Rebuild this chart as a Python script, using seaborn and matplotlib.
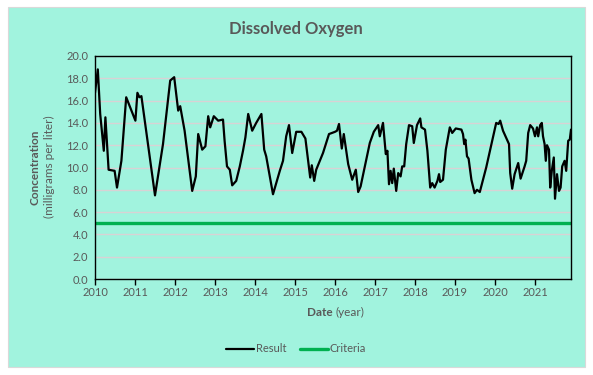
import numpy as np
import pandas as pd
import seaborn as sb
import matplotlib.pyplot as plt
from matplotlib.patches import Rectangle
from matplotlib.ticker import StrMethodFormatter

# sample dates as decimal years, dissolved oxygen in mg/L
years = [2010.00, 2010.07, 2010.13, 2010.22, 2010.26, 2010.34, 2010.49, 2010.55, 2010.66, 2010.78,
         2011.01, 2011.06, 2011.11, 2011.16, 2011.50, 2011.70, 2011.88, 2011.98, 2012.08, 2012.13,
         2012.24, 2012.43, 2012.52, 2012.58, 2012.68, 2012.76, 2012.83, 2012.88, 2012.97, 2013.08,
         2013.20, 2013.24, 2013.30, 2013.37, 2013.43, 2013.53, 2013.62, 2013.70, 2013.76, 2013.83,
         2013.93, 2014.03, 2014.16, 2014.23, 2014.28, 2014.45, 2014.62, 2014.70, 2014.78, 2014.85,
         2014.93, 2015.03, 2015.16, 2015.26, 2015.38, 2015.42, 2015.48, 2015.53, 2015.70, 2015.85,
         2016.00, 2016.05, 2016.10, 2016.17, 2016.22, 2016.27, 2016.33, 2016.43, 2016.52, 2016.58,
         2016.64, 2016.74, 2016.87, 2016.97, 2017.08, 2017.12, 2017.20, 2017.27, 2017.31, 2017.35,
         2017.39, 2017.43, 2017.47, 2017.53, 2017.58, 2017.64, 2017.68, 2017.73, 2017.78, 2017.85,
         2017.93, 2017.97, 2018.05, 2018.13, 2018.16, 2018.25, 2018.31, 2018.38, 2018.43, 2018.49,
         2018.56, 2018.60, 2018.63, 2018.70, 2018.77, 2018.87, 2018.93, 2019.02, 2019.16, 2019.20,
         2019.23, 2019.26, 2019.30, 2019.34, 2019.41, 2019.49, 2019.55, 2019.62, 2019.78, 2019.91,
         2020.03, 2020.09, 2020.13, 2020.20, 2020.35, 2020.38, 2020.43, 2020.49, 2020.58, 2020.64,
         2020.74, 2020.78, 2020.83, 2020.88, 2020.95, 2021.00, 2021.05, 2021.08, 2021.13, 2021.17,
         2021.20, 2021.24, 2021.27, 2021.30, 2021.35, 2021.38, 2021.42, 2021.47, 2021.50, 2021.55,
         2021.60, 2021.64, 2021.68, 2021.74, 2021.78, 2021.83, 2021.87, 2021.90]
result = [16.7, 18.8, 14.8, 11.5, 14.5, 9.8, 9.7, 8.2, 10.6, 16.3,
          14.2, 16.7, 16.3, 16.4, 7.5, 12.1, 17.8, 18.1, 15.1, 15.5,
          13.3, 7.9, 9.2, 13.0, 11.6, 11.9, 14.6, 13.6, 14.6, 14.2,
          14.3, 12.4, 10.1, 9.8, 8.4, 8.8, 10.1, 11.5, 12.7, 14.8,
          13.3, 14.0, 14.8, 11.6, 11.0, 7.6, 9.7, 10.6, 12.8, 13.8,
          11.3, 13.2, 13.2, 12.6, 9.1, 10.2, 8.8, 9.8, 11.3, 13.0,
          13.2, 13.3, 13.9, 11.7, 13.0, 11.8, 10.3, 8.9, 9.8, 7.8,
          8.3, 10.0, 12.2, 13.2, 13.8, 12.8, 14.0, 11.2, 11.5, 8.5,
          9.7, 8.6, 9.9, 7.9, 9.5, 9.2, 10.1, 10.1, 12.1, 13.8,
          13.7, 12.2, 13.8, 14.4, 13.6, 13.4, 11.5, 8.2, 8.6, 8.2,
          8.8, 9.4, 8.7, 8.9, 11.6, 13.6, 13.1, 13.5, 13.4, 13.0,
          12.1, 12.5, 11.0, 10.8, 8.9, 7.7, 8.0, 7.8, 10.0, 12.1,
          14.0, 13.9, 14.2, 13.3, 12.1, 9.5, 8.1, 9.4, 10.4, 9.0,
          10.1, 10.6, 13.1, 13.8, 13.5, 12.8, 13.6, 12.8, 13.8, 14.0,
          12.8, 12.1, 10.6, 12.0, 11.6, 8.2, 9.7, 10.9, 7.2, 9.4,
          7.9, 8.2, 10.1, 10.6, 9.7, 12.4, 12.5, 13.4]
criteria_years = [2010.00, 2021.90]
criteria = [5.0, 5.0]

grey = '#595959'
mint = '#a1f3de'

df = pd.concat([
    pd.DataFrame({'year': years, 'value': result, 'series': 'Result'}),
    pd.DataFrame({'year': criteria_years, 'value': criteria, 'series': 'Criteria'}),
])

sb.set_style('white')
plt.rcParams['font.family'] = ['Lato', 'DejaVu Sans']

fig = plt.figure(figsize=(5.93, 3.75), dpi=100)
fig.patch.set_facecolor('white')
fig.patches.append(Rectangle((8 / 593, 1 - 367 / 375), 577 / 593, 360 / 375,
                             transform=fig.transFigure, facecolor=mint,
                             edgecolor='#d9d9d9', linewidth=0.8, zorder=-5))

ax = fig.add_axes([95 / 593, 1 - 279 / 375, 476 / 593, 223 / 375])
ax.set_zorder(2)
ax.set_facecolor(mint)

sb.lineplot(data=df, x='year', y='value', hue='series',
            hue_order=['Result', 'Criteria'],
            palette={'Result': 'black', 'Criteria': '#00b050'},
            size='series', sizes={'Result': 1.6, 'Criteria': 2.4},
            estimator=None, sort=False, ax=ax, legend=True)

ax.set_xlim(2010, 2021.9)
ax.set_ylim(0, 20)
ax.set_yticks(np.arange(0, 20.1, 2))
ax.set_xticks(range(2010, 2022))
ax.yaxis.set_major_formatter(StrMethodFormatter('{x:.1f}'))
ax.xaxis.set_major_formatter(StrMethodFormatter('{x:.0f}'))
ax.grid(axis='y', color='#d9d2d4', linewidth=1.0)
ax.grid(axis='x', visible=False)
ax.set_axisbelow(True)

for s in ax.spines.values():
    s.set_color('black')
    s.set_linewidth(1.0)

ax.tick_params(axis='x', direction='out', length=4, color='black', width=1,
               labelsize=8, labelcolor=grey, pad=2)
ax.tick_params(axis='y', length=0, labelsize=8, labelcolor=grey, pad=5)
ax.tick_params(bottom=True, left=False)

ax.set_xlabel('')
ax.set_ylabel('')
fig.text(0.5 * (95 + 571) / 593, 1 - 312 / 375, 'Date', ha='right', va='center',
         fontsize=8.5, fontweight='bold', color=grey)
fig.text(0.5 * (95 + 571) / 593 + 0.004, 1 - 312 / 375, '(year)', ha='left', va='center',
         fontsize=8.5, color=grey)
fig.text(35 / 593, 1 - 167 / 375, 'Concentration', rotation=90, ha='center', va='center',
         fontsize=8.5, fontweight='bold', color=grey)
fig.text(49 / 593, 1 - 167 / 375, '(milligrams per liter)', rotation=90, ha='center',
         va='center', fontsize=8.5, color=grey)

fig.text(296 / 593, 1 - 29 / 375, 'Dissolved Oxygen', ha='center', va='center',
         fontsize=12, fontweight='bold', color=grey)

handles, labels = ax.get_legend_handles_labels()
keep = [i for i, l in enumerate(labels) if l in ('Result', 'Criteria')]
ax.legend([handles[i] for i in keep][:2], [labels[i] for i in keep][:2],
          loc='center', bbox_to_anchor=(296 / 593, 1 - 349 / 375),
          bbox_transform=fig.transFigure, ncol=2, frameon=False,
          fontsize=8, labelcolor=grey, handlelength=2.5, handletextpad=0.2,
          columnspacing=1.2)

plt.savefig('out.png', dpi=100, facecolor='white')
